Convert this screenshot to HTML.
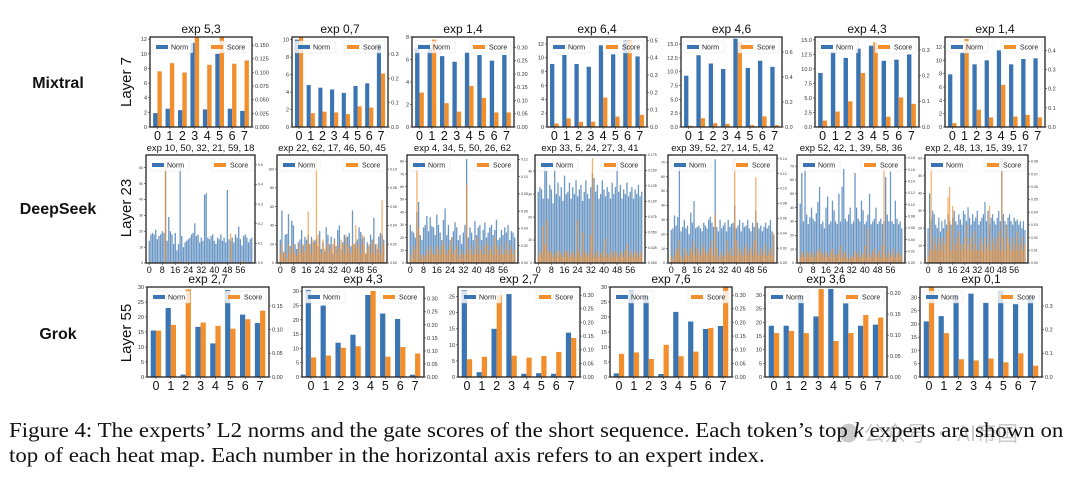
<!DOCTYPE html>
<html><head><meta charset="utf-8">
<style>
html,body{margin:0;padding:0;background:#fff;}
#wrap{position:relative;width:1080px;height:482px;overflow:hidden;}
svg text{font-family:"Liberation Sans",sans-serif;}
.cap{position:absolute;left:9px;font-family:"Liberation Serif",serif;font-size:21px;color:#111;white-space:nowrap;transform-origin:0 0;transform:scaleX(1.09);}
</style></head>
<body>
<div id="wrap">
<svg id="fig" width="1080" height="482"></svg>
<div style="position:absolute;left:838px;top:418px;font-family:'Noto Sans CJK SC',sans-serif;font-size:21px;color:rgba(150,150,150,0.5)">● 公众号 · AI帝国</div>
<div class="cap" style="top:418px">Figure 4: The experts’ L2 norms and the gate scores of the short sequence. Each token’s top <i>k</i> experts are shown on</div>
<div class="cap" style="top:443px">top of each heat map. Each number in the horizontal axis refers to an expert index.</div>
</div>
<script>
// ---------- data ----------
const mixCats = [0,1,2,3,4,5,6,7];
const mixTitles = ["exp 5,3","exp 0,7","exp 1,4","exp 6,4","exp 4,6","exp 4,3","exp 1,4"];
const mixNorm1 = [1.9,2.5,2.3,11.5,2.4,10,2.5,2.2];
const mixScore1 = [0.102,0.117,0.1,0.165,0.114,0.165,0.116,0.122];
const mixNorm2 = [10,4.8,4.5,4.3,3.9,4.7,5,9.5];
const mixScore2 = [0.37,0.057,0.063,0.06,0.053,0.085,0.08,0.22];
const mixNorm3 = [7,7,6.3,5.8,6.6,6.4,5.9,6.4];
const mixScore3 = [0.13,0.33,0.09,0.058,0.155,0.11,0.055,0.055];
const mixNorm4 = [9.1,10.4,9.1,8.7,11.8,10.5,12.5,10.2];
const mixScore4 = [0.02,0.05,0.03,0.03,0.17,0.06,0.5,0.07];
const mixNorm5 = [9.3,13,11.5,10.5,16,10.7,12,10.9];
const mixScore5 = [0.01,0.07,0.03,0.025,0.68,0.015,0.085,0.015];
const mixNorm6 = [9.3,13,11.9,13.5,14,11.4,11.6,12.5];
const mixScore6 = [0.025,0.06,0.1,0.21,0.33,0.04,0.115,0.09];
const mixNorm7 = [7.9,11.3,9.4,10,11.5,9.4,10.2,10.3];
const mixScore7 = [0.02,0.46,0.09,0.05,0.22,0.055,0.063,0.05];

const grokTitles = ["exp 2,7","exp 4,3","exp 2,7","exp 7,6","exp 3,6","exp 0,1"];
const grokNorm1 = [15.5,23,0.8,16.7,11.2,29,20.8,18];
const grokScore1 = [0.098,0.11,0.185,0.115,0.108,0.102,0.122,0.14];
const grokNorm2 = [30.5,25,12,14.8,28.7,22.2,20.3,0.8];
const grokScore2 = [0.075,0.082,0.112,0.118,0.33,0.078,0.115,0.09];
const grokNorm3 = [27,1.5,15,25.8,1,1.2,1,13.8];
const grokScore3 = [0.065,0.074,0.3,0.078,0.071,0.077,0.092,0.143];
const grokNorm4 = [1.2,28.8,27,1,21.7,18.5,16,17];
const grokScore4 = [0.085,0.09,0.066,0.118,0.076,0.093,0.18,0.33];
const grokNorm5 = [18.8,18.8,30,22.2,32.3,27,18.8,19.2];
const grokScore5 = [0.105,0.11,0.105,0.21,0.086,0.105,0.148,0.142];
const grokNorm6 = [21,23,31,31.5,28,32.5,27.5,31];
const grokScore6 = [0.38,0.185,0.075,0.07,0.078,0.062,0.1,0.048];

const dsTitles = ["exp 10, 50, 32, 21, 59, 18","exp 22, 62, 17, 46, 50, 45","exp 4, 34, 5, 50, 26, 62","exp 33, 5, 24, 27, 3, 41","exp 39, 52, 27, 14, 5, 42","exp 52, 42, 1, 39, 58, 36","exp 2, 48, 13, 15, 39, 17"];
const dsTickLabels = ["0","8","16","24","32","40","48","56"];
const dsNorm1 = [14,18,19,18,21,15,17,18,20,19,60,14,29,20,18,12,19,8,12,60,17,10,13,14,15,16,18,19,25,17,18,13,16,14,43,44,16,15,17,18,14,12,16,15,18,14,16,13,46,15,14,16,13,18,16,23,15,11,17,18,16,13,15,16];
const dsScore1 = [0.01,0,0,0,0,0,0,0,0,0,0.52,0,0,0,0.01,0,0,0,0.01,0.01,0,0,0,0.01,0,0,0,0,0,0,0,0,0,0.01,0,0,0,0,0,0,0,0,0,0,0,0,0,0,0,0,0.15,0,0,0,0,0,0,0.01,0.01,0,0,0,0,0];
const dsNorm2 = [25,56,12,30,31,52,18,45,40,20,15,22,25,35,18,28,25,30,20,28,22,24,26,18,34,15,22,12,38,30,20,28,10,26,18,35,40,15,22,30,27,28,32,18,56,20,22,25,38,33,26,28,10,22,18,30,25,48,20,15,28,32,30,25];
const dsScore2 = [0.01,0.02,0.01,0.012,0.005,0.02,0.01,0.015,0.02,0.01,0.008,0.02,0.015,0.01,0.02,0.012,0.02,0.055,0.02,0.01,0.025,0.02,0.11,0.03,0.02,0.01,0.025,0.015,0.02,0.01,0.02,0.015,0.02,0.025,0.01,0.02,0.015,0.025,0.02,0.01,0.03,0.02,0.015,0.01,0.02,0.02,0.04,0.015,0.02,0.01,0.03,0.02,0.01,0.015,0.02,0.01,0.02,0.025,0.01,0.02,0.015,0.01,0.067,0.02];
const dsNorm3 = [30,25,24,20,40,48,22,18,28,30,37,25,36,29,28,22,38,30,24,18,34,43,22,30,18,20,25,32,28,18,22,15,24,30,82,20,28,24,18,33,22,28,30,18,26,32,20,24,28,30,22,26,34,18,20,26,22,28,24,30,18,25,24,20];
const dsScore3 = [0.01,0.005,0.02,0.015,0.12,0.04,0.01,0.005,0.01,0.008,0.015,0.01,0.02,0.015,0.01,0.01,0.02,0.015,0.01,0.02,0.025,0.015,0.01,0.015,0.02,0.03,0.01,0.015,0.02,0.01,0.005,0.015,0.01,0.01,0.09,0.015,0.01,0.02,0.01,0.015,0.03,0.01,0.02,0.015,0.01,0.02,0.025,0.01,0.015,0.02,0.01,0.03,0.02,0.015,0.01,0.02,0.01,0.015,0.025,0.01,0.015,0.02,0.01,0.015];
const dsNorm4 = [31,33,32,28,43,40,28,34,32,26,41,30,35,29,33,27,38,30,31,35,28,33,30,36,29,32,34,27,31,36,30,28,33,39,37,31,34,28,30,36,32,29,33,31,28,35,30,33,44,31,34,28,32,30,35,29,31,33,28,32,30,34,29,31];
const dsScore4 = [0.01,0.02,0.015,0.06,0.03,0.07,0.02,0.015,0.02,0.01,0.015,0.02,0.01,0.02,0.015,0.01,0.02,0.015,0.02,0.01,0.015,0.02,0.01,0.015,0.07,0.02,0.01,0.05,0.015,0.02,0.01,0.015,0.045,0.17,0.01,0.015,0.02,0.01,0.015,0.02,0.01,0.04,0.015,0.01,0.02,0.015,0.01,0.02,0.015,0.01,0.02,0.015,0.01,0.02,0.03,0.01,0.02,0.015,0.01,0.02,0.015,0.01,0.02,0.015];
const dsNorm5 = [23,24,33,26,32,70,22,25,30,24,26,20,35,28,43,24,25,26,24,22,28,26,24,30,32,28,25,72,25,22,30,24,26,28,22,30,25,27,28,40,24,26,30,22,28,25,26,30,24,22,28,25,36,28,24,26,22,25,28,24,26,30,22,19];
const dsScore5 = [0.01,0.005,0.01,0.02,0.015,0.03,0.01,0.005,0.02,0.01,0.015,0.01,0.02,0.015,0.03,0.01,0.02,0.015,0.01,0.02,0.025,0.015,0.01,0.015,0.02,0.03,0.01,0.065,0.02,0.01,0.005,0.015,0.01,0.01,0.03,0.015,0.01,0.02,0.01,0.14,0.03,0.01,0.02,0.015,0.01,0.02,0.025,0.01,0.015,0.02,0.01,0.03,0.115,0.015,0.01,0.02,0.01,0.015,0.025,0.01,0.015,0.02,0.01,0.04];
const dsNorm6 = [43,65,30,70,35,28,33,40,32,30,36,44,55,28,30,25,40,48,28,30,45,38,30,28,50,30,55,68,32,30,35,40,28,30,65,40,32,30,45,38,28,30,35,50,28,30,32,40,28,30,32,28,30,62,35,30,66,30,28,45,32,28,30,25];
const dsScore6 = [0.01,0.02,0.015,0.01,0.02,0.015,0.01,0.02,0.015,0.01,0.02,0.015,0.025,0.02,0.015,0.01,0.02,0.015,0.01,0.02,0.025,0.015,0.01,0.015,0.02,0.03,0.01,0.015,0.02,0.01,0.005,0.015,0.01,0.01,0.02,0.015,0.01,0.02,0.01,0.015,0.03,0.01,0.06,0.015,0.01,0.02,0.025,0.01,0.015,0.02,0.01,0.03,0.17,0.015,0.01,0.02,0.01,0.015,0.025,0.01,0.015,0.02,0.01,0.015];
const dsNorm7 = [20,40,25,30,28,22,20,26,18,24,20,25,22,28,24,22,26,30,24,22,28,25,22,30,28,24,32,26,22,28,24,26,30,22,24,26,28,35,24,30,22,26,28,24,22,26,30,24,60,28,24,22,26,28,24,22,26,24,25,22,24,20,24,19];
const dsScore7 = [0.005,0.01,0.075,0.01,0.02,0.015,0.01,0.02,0.015,0.01,0.02,0.015,0.025,0.052,0.06,0.01,0.045,0.015,0.01,0.02,0.025,0.015,0.01,0.015,0.02,0.03,0.01,0.015,0.02,0.01,0.025,0.015,0.01,0.01,0.02,0.015,0.01,0.02,0.01,0.015,0.045,0.01,0.02,0.015,0.01,0.02,0.025,0.01,0.072,0.02,0.01,0.03,0.02,0.015,0.01,0.02,0.01,0.015,0.025,0.01,0.015,0.02,0.01,0.015];

// ---------- drawing ----------
const NS = "http://www.w3.org/2000/svg";
const svg = document.getElementById("fig");
const BLUE = "#3a74b2", ORANGE = "#f28e2b";
function el(tag, attrs, parent, txt) {
  const e = document.createElementNS(NS, tag);
  for (const k in attrs) e.setAttribute(k, attrs[k]);
  if (txt !== undefined) e.textContent = txt;
  (parent || svg).appendChild(e);
  return e;
}
function ticksFor(max, step) { const t = []; for (let v = 0; v <= max + 1e-9; v += step) t.push(+v.toFixed(4)); return t; }
function fmt(v, dec) { return v.toFixed(dec); }

function panel(p) {
  const g = el("g", {});
  
  
  const n = p.cats.length;
  const lo = p.dense ? -2 : -0.6, hi = p.dense ? n + 1 : n - 0.4;
  const xs = v => p.x + (v - lo) / (hi - lo) * p.w;
  const yl = v => p.y + p.h - v / p.lmax * p.h;
  const yr = v => p.y + p.h - v / p.rmax * p.h;
  const bw = p.dense ? 0.8 : 0.35;
  p.cats.forEach((c, i) => {
    if (p.dense) {
      const b = el("rect", {x: xs(c - bw/2), y: yl(p.norm[i]), width: xs(bw) - xs(0), height: p.y + p.h - yl(p.norm[i]), fill: BLUE, opacity: 0.75}, g);
      
      
      const s = el("rect", {x: xs(c - bw/2), y: yr(p.score[i]), width: xs(bw) - xs(0), height: p.y + p.h - yr(p.score[i]), fill: ORANGE, opacity: 0.7}, g);
      
      
    } else {
      const b = el("rect", {x: xs(c - bw), y: yl(p.norm[i]), width: xs(bw) - xs(0), height: p.y + p.h - yl(p.norm[i]), fill: BLUE}, g);
      
      
      const s = el("rect", {x: xs(c), y: yr(p.score[i]), width: xs(bw) - xs(0), height: p.y + p.h - yr(p.score[i]), fill: ORANGE}, g);
      
      
    }
  });
  el("rect", {x: p.x, y: p.y, width: p.w, height: p.h, fill: "none", stroke: "#222", "stroke-width": 1.3}, g);
  const fs = p.dense ? 3.5 : 5.5;
  ticksFor(p.lmax, p.lstep).forEach(v => {
    const y = yl(v);
    el("line", {x1: p.x - 2, x2: p.x, y1: y, y2: y, stroke: "#333", "stroke-width": 0.6}, g);
    el("text", {x: p.x - 3, y: y + fs * 0.35, "font-size": fs, "text-anchor": "end", fill: "#333"}, g, fmt(v, p.ldec));
  });
  ticksFor(p.rmax, p.rstep).forEach(v => {
    const y = yr(v);
    el("line", {x1: p.x + p.w, x2: p.x + p.w + 2, y1: y, y2: y, stroke: "#333", "stroke-width": 0.6}, g);
    el("text", {x: p.x + p.w + 3, y: y + fs * 0.35, "font-size": fs, fill: "#333"}, g, fmt(v, p.rdec));
  });
  const xl = p.dense ? dsTickLabels.map(Number) : p.cats;
  xl.forEach(v => {
    el("line", {x1: xs(v), x2: xs(v), y1: p.y + p.h, y2: p.y + p.h + 2, stroke: "#333", "stroke-width": 0.6}, g);
    el("text", {x: xs(v), y: p.y + p.h + (p.dense ? 10 : 13), "font-size": p.dense ? 9 : 12.5, "text-anchor": "middle", fill: "#111"}, g, String(v));
  });
  const t = el("text", {x: p.x + p.w / 2, y: p.y - 4, "font-size": p.dense ? 9.5 : 12, "text-anchor": "middle", fill: "#111"}, g, p.title);
  
  
  const ly = p.y + 4;
  const lg1 = el("g", {}, g);
  
  
  el("rect", {x: p.x + 3, y: ly, width: 40, height: 12, fill: "#fff", opacity: 0.8, stroke: "#ddd", "stroke-width": 0.5, rx: 1}, lg1);
  el("rect", {x: p.x + 6, y: ly + 4, width: 12, height: 4, fill: BLUE}, lg1);
  el("text", {x: p.x + 21, y: ly + 8.5, "font-size": 7, fill: "#222"}, lg1, "Norm");
  const lx = p.x + p.w - 44;
  const lg2 = el("g", {}, g);
  
  
  el("rect", {x: lx, y: ly, width: 41, height: 12, fill: "#fff", opacity: 0.8, stroke: "#ddd", "stroke-width": 0.5, rx: 1}, lg2);
  el("rect", {x: lx + 3, y: ly + 4, width: 12, height: 4, fill: ORANGE}, lg2);
  el("text", {x: lx + 19, y: ly + 8.5, "font-size": 7, fill: "#222"}, lg2, "Score");
}

const mixX = [150, 292, 412, 547, 681, 815, 945];
const mixW = [102, 96, 102, 100, 101, 104, 100];
const mixN = [mixNorm1, mixNorm2, mixNorm3, mixNorm4, mixNorm5, mixNorm6, mixNorm7];
const mixS = [mixScore1, mixScore2, mixScore3, mixScore4, mixScore5, mixScore6, mixScore7];
const mixAx = [[12.3,2,0,0.165,0.025,3],[10.3,2,0,0.37,0.1,1],[8,2,0,0.34,0.05,2],[13,2,0,0.52,0.1,1],[16.3,2.5,1,0.72,0.2,1],[15.5,2.5,1,0.35,0.1,1],[13.5,2,0,0.47,0.1,1]];
for (let i = 0; i < 7; i++) panel({name: 'mixtral-panel-' + (i+1), x: mixX[i], y: 37, w: mixW[i], h: 90, cats: mixCats, norm: mixN[i], score: mixS[i], lmax: mixAx[i][0], lstep: mixAx[i][1], ldec: mixAx[i][2], rmax: mixAx[i][3], rstep: mixAx[i][4], rdec: mixAx[i][5], title: mixTitles[i]});

const dsCats = dsNorm1.map((_, i) => i);
const dsX = [146, 277, 407, 535, 668, 797, 925];
const dsW = [109, 110, 111, 110, 109, 108, 103];
const dsN = [dsNorm1, dsNorm2, dsNorm3, dsNorm4, dsNorm5, dsNorm6, dsNorm7];
const dsS = [dsScore1, dsScore2, dsScore3, dsScore4, dsScore5, dsScore6, dsScore7];
const dsAx = [[68,10,0,0.55,0.1,1],[115,20,0,0.115,0.02,2],[85,10,0,0.125,0.02,2],[47,10,0,0.175,0.025,3],[75,10,0,0.145,0.02,2],[78,10,0,0.185,0.02,2],[62,10,0,0.085,0.01,2]];
for (let i = 0; i < 7; i++) panel({name: 'deepseek-panel-' + (i+1), dense: true, x: dsX[i], y: 155, w: dsW[i], h: 108, cats: dsCats, norm: dsN[i], score: dsS[i], lmax: dsAx[i][0], lstep: dsAx[i][1], ldec: dsAx[i][2], rmax: dsAx[i][3], rstep: dsAx[i][4], rdec: dsAx[i][5], title: dsTitles[i]});

const grokX = [147, 302, 458, 610, 765, 920];
const grokN = [grokNorm1, grokNorm2, grokNorm3, grokNorm4, grokNorm5, grokNorm6];
const grokS = [grokScore1, grokScore2, grokScore3, grokScore4, grokScore5, grokScore6];
const grokAx = [[30,5,0,0.19,0.05,2],[31.5,5,0,0.345,0.05,2],[28,5,0,0.33,0.05,2],[30,5,0,0.33,0.05,2],[33,5,0,0.215,0.05,2],[34,5,0,0.38,0.1,1]];
for (let i = 0; i < 6; i++) panel({name: 'grok-panel-' + (i+1), x: grokX[i], y: 287, w: 122, h: 90, cats: mixCats, norm: grokN[i], score: grokS[i], lmax: grokAx[i][0], lstep: grokAx[i][1], ldec: grokAx[i][2], rmax: grokAx[i][3], rstep: grokAx[i][4], rdec: grokAx[i][5], title: grokTitles[i]});

const models = ["Mixtral", "DeepSeek", "Grok"];
const layers = ["Layer 7", "Layer 23", "Layer 55"];
const rowY = [82, 208, 333];
models.forEach((m, i) => {
  const t = el("text", {x: 58, y: rowY[i] + 6, "font-size": 16, "font-weight": "bold", "text-anchor": "middle", fill: "#111"}, svg, m);
  
  
  const l = el("text", {x: 0, y: 0, "font-size": 15, "text-anchor": "middle", fill: "#111", transform: `translate(131,${rowY[i]}) rotate(-90)`}, svg, layers[i]);
  
  
});
</script>
</body></html>
